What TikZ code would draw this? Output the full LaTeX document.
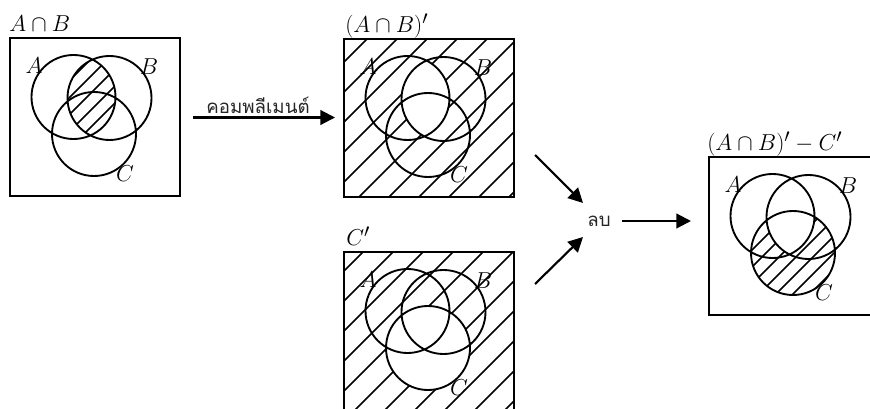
\documentclass[tikz,border=0pt]{standalone}
\usepackage{fontspec}
\newfontfamily\thaifont[Script=Thai]{Loma}
\usetikzlibrary{arrows.meta}

% one unit = one pixel, y grows downwards
\tikzset{
  x=0.75pt, y=-0.75pt,
  frame/.style={draw, line width=1.6pt, minimum width=127.5pt, minimum height=118.5pt,
                anchor=north west, inner sep=0pt, outer sep=0pt},
  venn/.style={line width=1.4pt},
  hatch/.style={line width=1.2pt},
  arr/.style={line width=1.6pt, -{Triangle[length=11pt,width=11pt]}},
  lbl/.style={font=\fontsize{19}{22}\selectfont, inner sep=0pt},
  ttl/.style={font=\fontsize{19}{22}\selectfont, anchor=base west, inner sep=0pt},
  thai/.style={font=\thaifont\fontsize{14}{16}\selectfont, inner sep=0pt, text=black!85}
}

% centres of the three circles of a diagram whose frame starts at (#2,#3)
\newcommand\setvenn[3]{%
  \coordinate (#1A) at (#2+63.5,#3+59);
  \coordinate (#1B) at (#2+99.5,#3+60);
  \coordinate (#1C) at (#2+84,#3+96);}
% circles and their letters
\newcommand\drawvenn[3]{%
  \draw[venn] (#1A) circle[radius=42] (#1B) circle[radius=42] (#1C) circle[radius=42];
  \node[lbl] (#1la) at (#2+24,#3+28) {$A$};
  \node[lbl] (#1lb) at (#2+139,#3+29) {$B$};
  \node[lbl] (#1lc) at (#2+115,#3+136) {$C$};}
% parallel "/" strokes; x+y runs from X+Y+phase in steps of #4
\newcommand\hatchlines[4]{%
  \foreach \k in {-1,...,26}{%
    \pgfmathsetmacro\cc{#1+#2+#3+#4*\k}%
    \draw[hatch] (\cc-#2-200,#2+200) -- (\cc-#2+20,#2-20);}}

\begin{document}
\begin{tikzpicture}
\useasboundingbox (0,0) rectangle (870,409);

% ---- A cap B ----
\node[frame] (b1) at (10,38) {};
\setvenn{p}{10}{38}
\begin{scope}
  \clip (pA) circle[radius=42];
  \clip (pB) circle[radius=42];
  \hatchlines{10}{38}{0}{17}
\end{scope}
\drawvenn{p}{10}{38}
\node[ttl] (t1) at (9,32) {$A\cap B$};

% ---- complement of A cap B ----
\node[frame] (b2) at (344,39) {};
\setvenn{q}{344}{39}
\begin{scope}
  \clip (b2.north west) rectangle (b2.south east);
  \hatchlines{344}{39}{23}{30}
\end{scope}
\begin{scope}
  \clip (qA) circle[radius=42];
  \fill[white] (qB) circle[radius=42];
\end{scope}
\drawvenn{q}{344}{39}
\node[ttl] (t2) at (345,33) {$(A\cap B)'$};

% ---- complement of C ----
\node[frame, minimum height=124pt] (b3) at (344,252) {};
\setvenn{r}{344}{252}
\begin{scope}
  \clip (b3.north west) rectangle (b3.south east);
  \hatchlines{344}{252}{19}{30}
\end{scope}
\fill[white] (rC) circle[radius=42];
\drawvenn{r}{344}{252}
\node[ttl] (t3) at (346,246) {$C'$};

% ---- result ----
\node[frame] (b4) at (709,157) {};
\setvenn{s}{709}{157}
\begin{scope}
  \clip (sC) circle[radius=42];
  \hatchlines{709}{157}{0}{17}
\end{scope}
\begin{scope}
  \clip (sA) circle[radius=42];
  \fill[white] (sB) circle[radius=42];
\end{scope}
\drawvenn{s}{709}{157}
\node[ttl] (t4) at (707,151) {$(A\cap B)'-C'$};

% ---- arrows ----
\coordinate (a1s) at (193,117.5);
\coordinate (a1e) at (335,117.5);
\draw[arr] (a1s) -- (a1e);
\node[thai] (comp) at (258,105) {คอมพลีเมนต์};

\node[thai] (minus) at (599,221) {ลบ};
\coordinate (d1s) at (535,155);
\coordinate (d1e) at (583,203);
\coordinate (d2s) at (535,284);
\coordinate (d2e) at (583,237);
\draw[arr] (d1s) -- (d1e);
\draw[arr] (d2s) -- (d2e);
\coordinate (a4s) at (622,221);
\coordinate (a4e) at (691,221);
\draw[arr] (a4s) -- (a4e);
\end{tikzpicture}
\end{document}
